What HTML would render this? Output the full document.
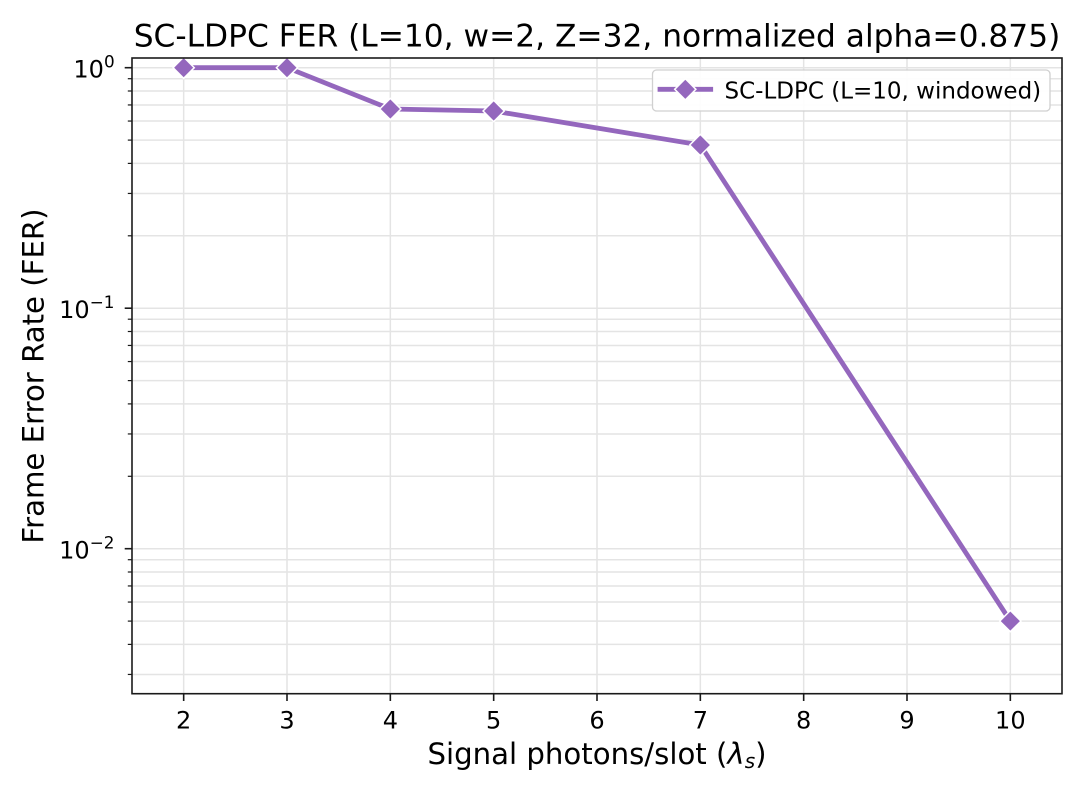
<!DOCTYPE html>
<html>
<head>
<meta charset="utf-8">
<style>
  html, body { margin: 0; padding: 0; background: #ffffff; }
  svg { display: block; }
  text { font-family: "DejaVu Sans", "Liberation Sans", sans-serif; fill: #000; }
</style>
</head>
<body>
<svg width="1084" height="795" viewBox="0 0 1084 795" xmlns="http://www.w3.org/2000/svg">
  <rect x="0" y="0" width="1084" height="795" fill="#ffffff"/>

  <!-- grid: vertical -->
  <g stroke="#e4e4e4" stroke-width="1.5">
    <line x1="183.67" y1="58" x2="183.67" y2="693.7"/>
    <line x1="287" y1="58" x2="287" y2="693.7"/>
    <line x1="390.33" y1="58" x2="390.33" y2="693.7"/>
    <line x1="493.67" y1="58" x2="493.67" y2="693.7"/>
    <line x1="597" y1="58" x2="597" y2="693.7"/>
    <line x1="700.33" y1="58" x2="700.33" y2="693.7"/>
    <line x1="803.67" y1="58" x2="803.67" y2="693.7"/>
    <line x1="907" y1="58" x2="907" y2="693.7"/>
    <line x1="1010.33" y1="58" x2="1010.33" y2="693.7"/>
  </g>
  <!-- grid: horizontal major + minor -->
  <g stroke="#e4e4e4" stroke-width="1.5">
    <line x1="132" y1="67.7" x2="1062" y2="67.7"/>
    <line x1="132" y1="308.2" x2="1062" y2="308.2"/>
    <line x1="132" y1="548.7" x2="1062" y2="548.7"/>
    <line x1="132" y1="235.8" x2="1062" y2="235.8"/>
    <line x1="132" y1="193.45" x2="1062" y2="193.45"/>
    <line x1="132" y1="163.4" x2="1062" y2="163.4"/>
    <line x1="132" y1="140.1" x2="1062" y2="140.1"/>
    <line x1="132" y1="121.05" x2="1062" y2="121.05"/>
    <line x1="132" y1="104.95" x2="1062" y2="104.95"/>
    <line x1="132" y1="91.0" x2="1062" y2="91.0"/>
    <line x1="132" y1="78.7" x2="1062" y2="78.7"/>
    <line x1="132" y1="476.3" x2="1062" y2="476.3"/>
    <line x1="132" y1="433.95" x2="1062" y2="433.95"/>
    <line x1="132" y1="403.9" x2="1062" y2="403.9"/>
    <line x1="132" y1="380.6" x2="1062" y2="380.6"/>
    <line x1="132" y1="361.55" x2="1062" y2="361.55"/>
    <line x1="132" y1="345.45" x2="1062" y2="345.45"/>
    <line x1="132" y1="331.5" x2="1062" y2="331.5"/>
    <line x1="132" y1="319.2" x2="1062" y2="319.2"/>
    <line x1="132" y1="674.45" x2="1062" y2="674.45"/>
    <line x1="132" y1="644.4" x2="1062" y2="644.4"/>
    <line x1="132" y1="621.1" x2="1062" y2="621.1"/>
    <line x1="132" y1="602.05" x2="1062" y2="602.05"/>
    <line x1="132" y1="585.95" x2="1062" y2="585.95"/>
    <line x1="132" y1="572.0" x2="1062" y2="572.0"/>
    <line x1="132" y1="559.7" x2="1062" y2="559.7"/>
  </g>

  <!-- data line -->
  <polyline points="183.67,67.7 287,67.7 390.33,109 493.67,111 700.33,145 1010.33,621.1"
            fill="none" stroke="#9467bd" stroke-width="4.8" stroke-linejoin="round" stroke-linecap="square"/>
  <!-- markers -->
  <g fill="#9467bd" stroke="#ffffff" stroke-width="1.5" stroke-linejoin="miter">
    <polygon points="183.67,57.1 194.27,67.7 183.67,78.3 173.07,67.7"/>
    <polygon points="287,57.1 297.6,67.7 287,78.3 276.4,67.7"/>
    <polygon points="390.33,98.4 400.93,109 390.33,119.6 379.73,109"/>
    <polygon points="493.67,100.4 504.27,111 493.67,121.6 483.07,111"/>
    <polygon points="700.33,134.4 710.93,145 700.33,155.6 689.73,145"/>
    <polygon points="1010.33,610.5 1020.93,621.1 1010.33,631.7 999.73,621.1"/>
  </g>

  <!-- spines -->
  <rect x="132" y="58" width="930" height="635.7" fill="none" stroke="#1a1a1a" stroke-width="1.6"/>

  <!-- x ticks -->
  <g stroke="#1a1a1a" stroke-width="1.6">
    <line x1="183.67" y1="693.7" x2="183.67" y2="701"/>
    <line x1="287" y1="693.7" x2="287" y2="701"/>
    <line x1="390.33" y1="693.7" x2="390.33" y2="701"/>
    <line x1="493.67" y1="693.7" x2="493.67" y2="701"/>
    <line x1="597" y1="693.7" x2="597" y2="701"/>
    <line x1="700.33" y1="693.7" x2="700.33" y2="701"/>
    <line x1="803.67" y1="693.7" x2="803.67" y2="701"/>
    <line x1="907" y1="693.7" x2="907" y2="701"/>
    <line x1="1010.33" y1="693.7" x2="1010.33" y2="701"/>
  </g>
  <!-- y major ticks -->
  <g stroke="#1a1a1a" stroke-width="1.6">
    <line x1="124.7" y1="67.7" x2="132" y2="67.7"/>
    <line x1="124.7" y1="308.2" x2="132" y2="308.2"/>
    <line x1="124.7" y1="548.7" x2="132" y2="548.7"/>
  </g>
  <!-- y minor ticks -->
  <g stroke="#1a1a1a" stroke-width="1.2">
    <line x1="127.8" y1="235.8" x2="132" y2="235.8"/>
    <line x1="127.8" y1="193.45" x2="132" y2="193.45"/>
    <line x1="127.8" y1="163.4" x2="132" y2="163.4"/>
    <line x1="127.8" y1="140.1" x2="132" y2="140.1"/>
    <line x1="127.8" y1="121.05" x2="132" y2="121.05"/>
    <line x1="127.8" y1="104.95" x2="132" y2="104.95"/>
    <line x1="127.8" y1="91.0" x2="132" y2="91.0"/>
    <line x1="127.8" y1="78.7" x2="132" y2="78.7"/>
    <line x1="127.8" y1="476.3" x2="132" y2="476.3"/>
    <line x1="127.8" y1="433.95" x2="132" y2="433.95"/>
    <line x1="127.8" y1="403.9" x2="132" y2="403.9"/>
    <line x1="127.8" y1="380.6" x2="132" y2="380.6"/>
    <line x1="127.8" y1="361.55" x2="132" y2="361.55"/>
    <line x1="127.8" y1="345.45" x2="132" y2="345.45"/>
    <line x1="127.8" y1="331.5" x2="132" y2="331.5"/>
    <line x1="127.8" y1="319.2" x2="132" y2="319.2"/>
    <line x1="127.8" y1="674.45" x2="132" y2="674.45"/>
    <line x1="127.8" y1="644.4" x2="132" y2="644.4"/>
    <line x1="127.8" y1="621.1" x2="132" y2="621.1"/>
    <line x1="127.8" y1="602.05" x2="132" y2="602.05"/>
    <line x1="127.8" y1="585.95" x2="132" y2="585.95"/>
    <line x1="127.8" y1="572.0" x2="132" y2="572.0"/>
    <line x1="127.8" y1="559.7" x2="132" y2="559.7"/>
  </g>

  <!-- x tick labels -->
  <g font-size="24" text-anchor="middle">
    <text x="183.67" y="728.3">2</text>
    <text x="287" y="728.3">3</text>
    <text x="390.33" y="728.3">4</text>
    <text x="493.67" y="728.3">5</text>
    <text x="597" y="728.3">6</text>
    <text x="700.33" y="728.3">7</text>
    <text x="803.67" y="728.3">8</text>
    <text x="907" y="728.3">9</text>
    <text x="1010.33" y="728.3">10</text>
  </g>

  <!-- y tick labels -->
  <g font-size="24">
    <text x="73.4" y="77.5">10<tspan font-size="16.8" dy="-10">0</tspan></text>
    <text x="59.1" y="318.2">10<tspan font-size="16.8" dy="-10">−1</tspan></text>
    <text x="59.1" y="558.7">10<tspan font-size="16.8" dy="-10">−2</tspan></text>
  </g>

  <!-- title -->
  <text x="597" y="46.5" font-size="31.25" text-anchor="middle">SC-LDPC FER (L=10, w=2, Z=32, normalized alpha=0.875)</text>

  <!-- x label -->
  <text x="597" y="764" font-size="29.2" text-anchor="middle">Signal photons/slot (<tspan font-style="italic">λ</tspan><tspan font-style="italic" font-size="20" dy="4">s</tspan><tspan dy="-4">)</tspan></text>

  <!-- y label -->
  <text transform="translate(43.3,376) rotate(-90)" font-size="29.2" text-anchor="middle">Frame Error Rate (FER)</text>

  <!-- legend -->
  <rect x="652.5" y="70" width="397.5" height="41" rx="4" ry="4" fill="#ffffff" fill-opacity="0.9" stroke="#d0d0d0" stroke-width="1.3"/>
  <line x1="660" y1="89.3" x2="710.7" y2="89.3" stroke="#9467bd" stroke-width="4.8" stroke-linecap="square"/>
  <polygon points="685.3,78.7 695.9,89.3 685.3,99.9 674.7,89.3" fill="#9467bd" stroke="#ffffff" stroke-width="1.5"/>
  <text x="724.5" y="98.3" font-size="23">SC-LDPC (L=10, windowed)</text>
</svg>
</body>
</html>
